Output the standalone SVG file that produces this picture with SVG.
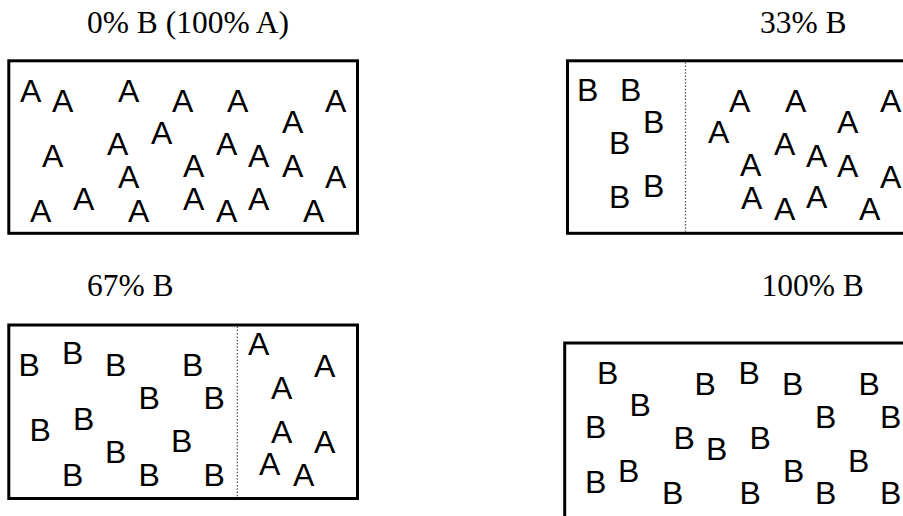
<svg xmlns="http://www.w3.org/2000/svg" width="903" height="516" viewBox="0 0 903 516">
  <style>
    .box { fill: none; stroke: #000; stroke-width: 3; }
    .split { stroke: #555; stroke-width: 1.3; stroke-dasharray: 1.5 1.8; }
    .t { font-family: "Liberation Serif", "Times New Roman", serif; font-size: 31.5px; fill: #000; }
    .m { font-family: "Liberation Sans", Arial, sans-serif; font-size: 32px; fill: #000; }
  </style>
  <rect width="903" height="516" fill="#fff"/>

  <!-- 0% B: all A -->
  <g id="panel-0">
    <text class="t" x="87" y="33">0% B (100% A)</text>
    <rect class="box" x="8.8" y="60.8" width="348.7" height="172.5"/>
    <g class="m">
      <text x="20" y="102">A</text><text x="52" y="112">A</text><text x="118" y="102">A</text>
      <text x="172" y="112">A</text><text x="227" y="112">A</text><text x="325" y="112">A</text>
      <text x="282" y="133">A</text><text x="151" y="144">A</text><text x="107" y="155">A</text>
      <text x="42" y="167">A</text><text x="216" y="155">A</text><text x="248" y="167">A</text>
      <text x="183" y="177">A</text><text x="282" y="177">A</text><text x="118" y="188">A</text>
      <text x="325" y="188">A</text><text x="30" y="222">A</text><text x="73" y="210">A</text>
      <text x="128" y="222">A</text><text x="183" y="210">A</text><text x="216" y="222">A</text>
      <text x="248" y="210">A</text><text x="303" y="222">A</text>
    </g>
  </g>

  <!-- 33% B -->
  <g id="panel-33">
    <text class="t" x="760" y="33">33% B</text>
    <rect class="box" x="567.5" y="60.8" width="400" height="172.5"/>
    <line class="split" x1="685.5" y1="62.3" x2="685.5" y2="231.8"/>
    <g class="m">
      <text x="577" y="101">B</text><text x="620" y="101">B</text><text x="643" y="133">B</text>
      <text x="609" y="154">B</text><text x="643" y="197">B</text><text x="609" y="208">B</text>
      <text x="729" y="112">A</text><text x="785" y="112">A</text><text x="880" y="112">A</text>
      <text x="708" y="143">A</text><text x="837" y="133">A</text><text x="774" y="155">A</text>
      <text x="806" y="167">A</text><text x="740" y="176">A</text><text x="837" y="177">A</text>
      <text x="880" y="188">A</text><text x="741" y="209">A</text><text x="774" y="220">A</text>
      <text x="806" y="208">A</text><text x="859" y="220">A</text>
    </g>
  </g>

  <!-- 67% B -->
  <g id="panel-67">
    <text class="t" x="87" y="296">67% B</text>
    <rect class="box" x="8.8" y="325" width="348.7" height="173.5"/>
    <line class="split" x1="237.3" y1="326.5" x2="237.3" y2="497"/>
    <g class="m">
      <text x="18.5" y="376">B</text><text x="62" y="364">B</text><text x="105" y="376">B</text>
      <text x="182" y="376">B</text><text x="138.5" y="409">B</text><text x="203.5" y="409">B</text>
      <text x="29.5" y="441">B</text><text x="73" y="430">B</text><text x="171" y="452">B</text>
      <text x="105" y="463">B</text><text x="62" y="486">B</text><text x="138.5" y="486">B</text>
      <text x="203.5" y="486">B</text>
      <text x="248" y="355">A</text><text x="314" y="377">A</text><text x="271" y="399">A</text>
      <text x="271" y="443">A</text><text x="314" y="453">A</text><text x="259" y="475">A</text>
      <text x="293" y="486">A</text>
    </g>
  </g>

  <!-- 100% B -->
  <g id="panel-100">
    <text class="t" x="761.5" y="296">100% B</text>
    <rect class="box" x="564.7" y="343" width="400" height="200"/>
    <g class="m">
      <text x="597" y="384">B</text><text x="629.5" y="416">B</text><text x="585" y="438">B</text>
      <text x="694.5" y="395">B</text><text x="738.5" y="384">B</text><text x="782" y="395">B</text>
      <text x="858.5" y="395">B</text><text x="815" y="428">B</text><text x="880" y="428">B</text>
      <text x="673.5" y="449">B</text><text x="706" y="460">B</text><text x="749.5" y="449">B</text>
      <text x="585" y="493">B</text><text x="618" y="482">B</text><text x="662" y="504">B</text>
      <text x="739.5" y="504">B</text><text x="783" y="482">B</text><text x="848" y="472">B</text>
      <text x="815" y="504">B</text><text x="880" y="504">B</text>
    </g>
  </g>
</svg>
